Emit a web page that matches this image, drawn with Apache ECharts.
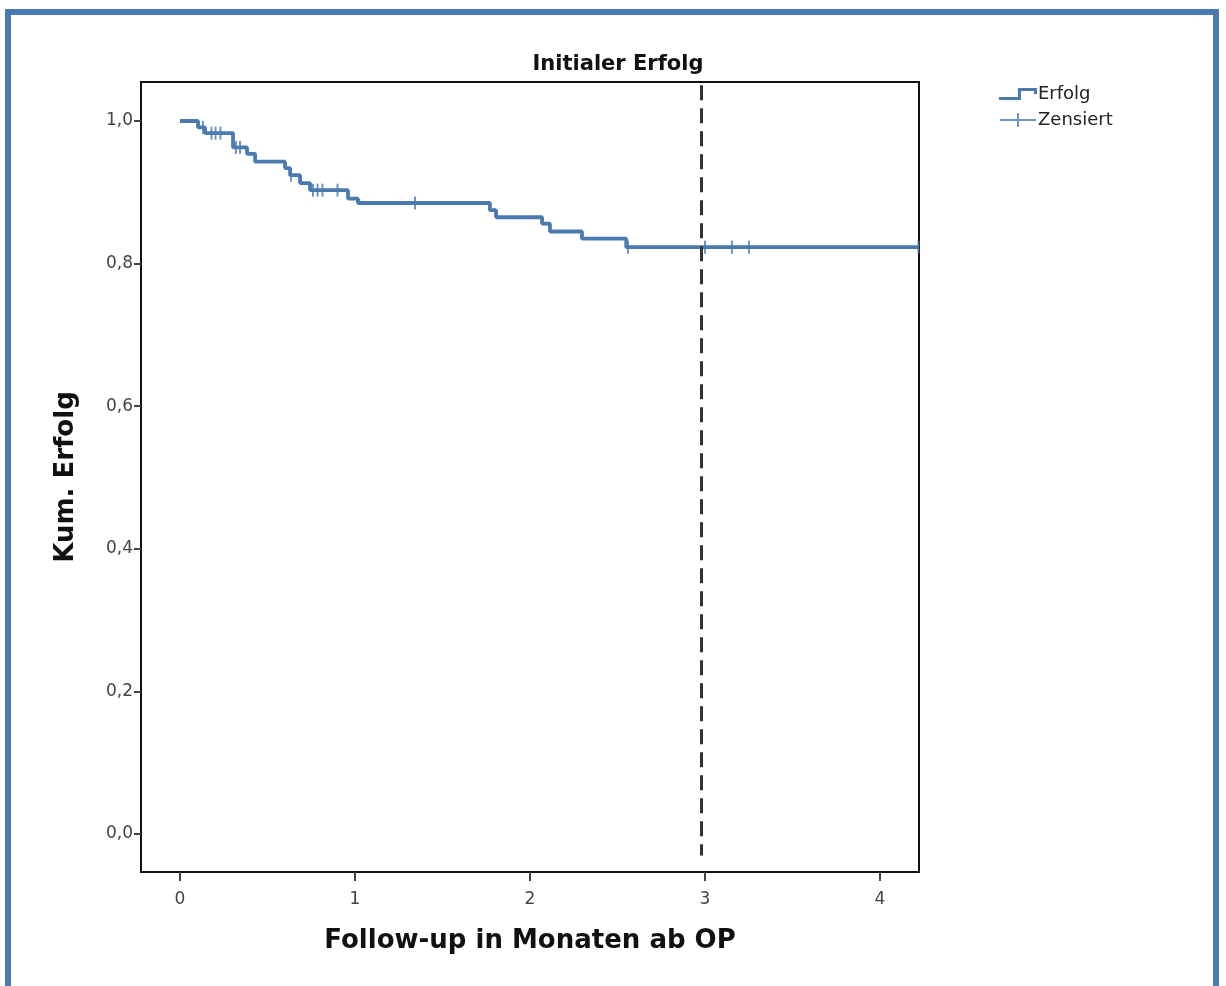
<!DOCTYPE html>
<html>
<head>
<meta charset="utf-8">
<script src="https://cdn.jsdelivr.net/npm/echarts@6/dist/echarts.min.js"></script>
<style>
    html, body { margin: 0; padding: 0; background: #fff; }
    #frame { position: absolute; left: 5px; top: 9px; width: 1214px; height: 990px; border: 6px solid #4a7bb0; border-bottom: none; box-sizing: border-box; }
    #km_chart { position: absolute; left: 0; top: 0; width: 1226px; height: 986px; }
</style>
</head>
<body>
<div id="frame"></div>
<div id="km_chart"></div>
<script>
// Zeitpunkte der Ereignisse (Monate) und Überlebensniveau danach
var eventTimes = [0, 0.103, 0.143, 0.303, 0.383, 0.429, 0.6, 0.629, 0.686, 0.743, 0.96, 1.017, 1.771, 1.806, 2.069, 2.114, 2.297, 2.55, 4.22]
var survival   = [1.0, 0.991, 0.983, 0.963, 0.954, 0.943, 0.934, 0.924, 0.913, 0.903, 0.891, 0.885, 0.875, 0.865, 0.856, 0.845, 0.835, 0.823, 0.823]

// zensierte Fälle
var censorTimes  = [0.131, 0.18, 0.203, 0.231, 0.32, 0.343, 0.634, 0.76, 0.786, 0.814, 0.9, 1.343, 2.56, 3.0, 3.154, 3.251, 4.22]
var censorValues = [0.991, 0.983, 0.983, 0.983, 0.963, 0.963, 0.924, 0.903, 0.903, 0.903, 0.903, 0.885, 0.823, 0.823, 0.823, 0.823, 0.823]

var xTicks = [0, 1, 2, 3, 4]
var yTicks = [0, 0.2, 0.4, 0.6, 0.8, 1.0]
var refLineX = 2.98

var lineColor = '#4a7aae'

var stepData = eventTimes.map(function (t, i) { return [t, survival[i]] })
var censorData = censorTimes.map(function (t, i) { return [t, censorValues[i]] })

var chart = echarts.init(document.getElementById('km_chart'))
var option = {
    animation: false,
    title: {
        text: 'Initialer Erfolg',
        left: 613,
        top: 49,
        textAlign: 'center',
        textStyle: { fontFamily: 'DejaVu Sans', fontWeight: 'bold', fontSize: 21, color: '#111' }
    },
    legend: {
        orient: 'vertical',
        left: 994,
        top: 80,
        itemWidth: 38,
        itemHeight: 14,
        itemGap: 8,
        textStyle: { fontFamily: 'DejaVu Sans', fontSize: 18, color: '#222', padding: [0, 0, 0, -4] },
        data: [
            { name: 'Erfolg', icon: 'path://M0,9 L19,9 L19,0 L38,0 L38,6 L35,6 L35,3 L22,3 L22,12 L0,12 Z' },
            { name: 'Zensiert', icon: 'path://M0,6 L17,6 L17,0 L19,0 L19,6 L36,6 L36,8 L19,8 L19,14 L17,14 L17,8 L0,8 Z' }
        ]
    },
    grid: {
        left: 141,
        top: 82,
        width: 778,
        height: 790,
        show: true,
        borderColor: '#111',
        borderWidth: 2,
        backgroundColor: '#fff'
    },
    xAxis: {
        type: 'value',
        min: -0.223,
        max: 4.223,
        name: 'Follow-up in Monaten ab OP',
        nameLocation: 'middle',
        nameGap: 56,
        nameTextStyle: { fontFamily: 'DejaVu Sans', fontWeight: 'bold', fontSize: 26, color: '#111' },
        axisLine: { show: false, onZero: false },
        splitLine: { show: false },
        axisTick: { show: true, length: 9, customValues: xTicks, lineStyle: { color: '#444', width: 2 } },
        axisLabel: {
            customValues: xTicks,
            margin: 19,
            fontFamily: 'DejaVu Sans',
            fontSize: 17,
            color: '#444'
        }
    },
    yAxis: {
        type: 'value',
        min: -0.0533,
        max: 1.0547,
        name: 'Kum. Erfolg',
        nameLocation: 'middle',
        nameGap: 62,
        nameRotate: 90,
        nameTextStyle: { fontFamily: 'DejaVu Sans', fontWeight: 'bold', fontSize: 26, color: '#111' },
        axisLine: { show: false, onZero: false },
        splitLine: { show: false },
        axisTick: { show: true, length: 7, customValues: yTicks, lineStyle: { color: '#444', width: 2 } },
        axisLabel: {
            customValues: yTicks,
            margin: 8,
            fontFamily: 'DejaVu Sans',
            fontSize: 17,
            color: '#444',
            formatter: function (v) { return v.toFixed(1).replace('.', ',') }
        }
    },
    series: [
        {
            name: 'Erfolg',
            type: 'line',
            step: 'end',
            showSymbol: false,
            symbol: 'none',
            data: stepData,
            itemStyle: { color: lineColor },
            lineStyle: { color: lineColor, width: 3.8 },
            markLine: {
                silent: true,
                symbol: 'none',
                label: { show: false },
                lineStyle: { color: '#333', width: 3, type: [15, 8] },
                data: [[{ coord: [refLineX, 1.05] }, { coord: [refLineX, -0.03] }]]
            },
            z: 3
        },
        {
            name: 'Zensiert',
            type: 'scatter',
            symbol: 'rect',
            symbolSize: [2, 13],
            data: censorData,
            itemStyle: { color: lineColor },
            z: 4
        }
    ]
}
chart.setOption(option)
</script>
</body>
</html>
